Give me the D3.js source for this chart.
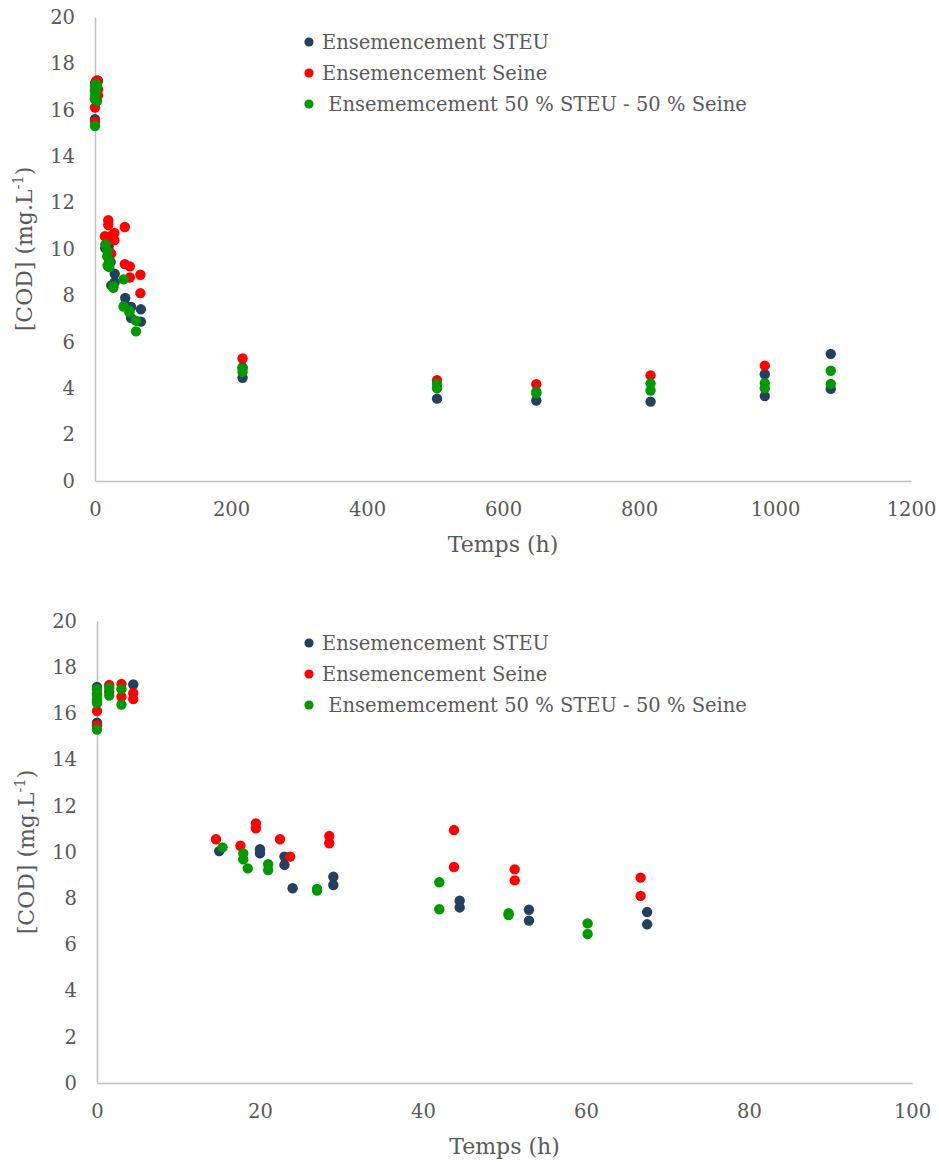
<!DOCTYPE html>
<html>
<head>
<meta charset="utf-8">
<script src="https://cdn.jsdelivr.net/npm/d3@7"></script>
<style>
  body { margin: 0; background: #fff; }
  text { font-family: "DejaVu Serif", serif; fill: #595959; }
</style>
</head>
<body>
<svg id="chart" width="939" height="1162"></svg>
<script>
// ---------------------------------
// data : [time (h), COD (mg/L)]
// ---------------------------------
const steuPoints = [
  [0, 17.15], [0, 16.5], [0, 15.6], [4.45, 17.25],
  [15, 10.04], [20, 10.12], [20, 9.94], [23, 9.8], [23, 9.44], [24, 8.43],
  [29, 8.93], [29, 8.57], [44.5, 7.89], [44.5, 7.6], [53, 7.5], [53, 7.03],
  [67.5, 7.4], [67.5, 6.87],
  [217, 4.9], [217, 4.45], [503, 3.55], [649, 3.47], [817, 3.42],
  [985, 4.6], [985, 3.66], [1082, 5.48], [1082, 3.97]
];

const seinePoints = [
  [0, 16.85], [0, 16.1], [0, 15.48], [1.5, 17.23], [1.5, 16.94],
  [3, 17.27], [3, 16.72], [4.45, 16.88], [4.45, 16.62],
  [14.6, 10.55], [17.6, 10.27], [19.5, 11.24], [19.5, 11.03], [22.45, 10.55],
  [23.7, 9.8], [28.5, 10.69], [28.5, 10.38], [43.8, 10.95], [43.8, 9.35],
  [51.25, 9.25], [51.25, 8.77], [66.7, 8.89], [66.7, 8.1],
  [217, 5.28], [503, 4.35], [649, 4.17], [817, 4.55], [985, 4.97]
];

const mixPoints = [
  [0, 17.05], [0, 16.8], [0, 16.6], [0, 16.45], [0, 15.3],
  [1.5, 17.1], [1.5, 16.77], [3, 17.05], [3, 16.38],
  [15.4, 10.2], [17.95, 9.94], [17.95, 9.68], [18.5, 9.29], [21, 9.47], [21, 9.22],
  [27, 8.4], [27, 8.33], [42, 8.69], [42, 7.52], [50.5, 7.35], [50.5, 7.27],
  [60.2, 6.91], [60.2, 6.45],
  [217, 4.85], [217, 4.7], [503, 4.18], [503, 4.0], [649, 3.85], [649, 3.78],
  [817, 4.21], [817, 3.9], [985, 4.22], [985, 4.0], [1082, 4.75], [1082, 4.18]
];

const seriesNames = [
  "Ensemencement STEU",
  "Ensemencement Seine",
  " Ensememcement 50 % STEU - 50 % Seine"
];
const seriesColors = ["#243F60", "#FF0000", "#009A00"];

const yTicks = d3.range(0, 21, 2);
const xTicksTop = d3.range(0, 1201, 200);
const xTicksBottom = d3.range(0, 101, 20);

const svg = d3.select("#chart");
const allSeries = [steuPoints, seinePoints, mixPoints];

//
// one scatter panel
//
function drawPanel(left, top, width, height, xMax, xTicks, legendX, legendY) {
  const g = svg.append("g").attr("transform", "translate(" + left + "," + top + ")");

  const xScale = d3.scaleLinear().domain([0, xMax]).range([0, width]);
  const yScale = d3.scaleLinear().domain([0, 20]).range([height, 0]);

  // axes
  const yAxis = g.append("g")
    .call(d3.axisLeft(yScale).tickValues(yTicks).tickFormat(d3.format("d")).tickSize(0).tickPadding(20));
  const xAxis = g.append("g")
    .attr("transform", "translate(0," + height + ")")
    .call(d3.axisBottom(xScale).tickValues(xTicks).tickFormat(d3.format("d")).tickSize(0).tickPadding(21));

  [xAxis, yAxis].forEach((ax) => {
    ax.select(".domain").attr("stroke", "#BFBFBF").attr("stroke-width", 1.5);
    ax.selectAll("text")
      .style("font-family", "DejaVu Serif")
      .style("font-size", "19.5px")
      .attr("fill", "#595959");
  });

  // x label
  g.append("text")
    .attr("x", width / 2)
    .attr("y", height + 71)
    .attr("text-anchor", "middle")
    .style("font-size", "22px")
    .text("Temps (h)");

  // y label
  const yl = g.append("text")
    .attr("text-anchor", "middle")
    .attr("transform", "translate(" + (-63) + "," + height / 2 + ")rotate(-90)")
    .style("font-size", "22px");
  yl.append("tspan").text("[COD] (mg.L");
  yl.append("tspan").attr("dy", -9).style("font-size", "14.5px").text("-1");
  yl.append("tspan").attr("dy", 9).text(")");

  // dots
  allSeries.forEach((pts, i) => {
    g.append("g")
      .selectAll("circle")
      .data(pts.filter((d) => d[0] <= xMax))
      .enter()
      .append("circle")
      .attr("cx", (d) => xScale(d[0]))
      .attr("cy", (d) => yScale(d[1]))
      .attr("r", 5.2)
      .style("fill", seriesColors[i]);
  });

  // legend
  const lg = svg.append("g").attr("transform", "translate(" + legendX + "," + legendY + ")");
  seriesNames.forEach((name, i) => {
    lg.append("circle").attr("cx", 0).attr("cy", i * 31).attr("r", 4.6).style("fill", seriesColors[i]);
    lg.append("text")
      .attr("x", 13)
      .attr("y", i * 31)
      .attr("dy", "0.35em")
      .style("font-size", "19.5px")
      .style("white-space", "pre")
      .text(name);
  });
}

drawPanel(95, 17, 816, 464, 1200, xTicksTop, 309, 42);
drawPanel(97, 621, 815, 462, 100, xTicksBottom, 309, 643);
</script>
</body>
</html>
